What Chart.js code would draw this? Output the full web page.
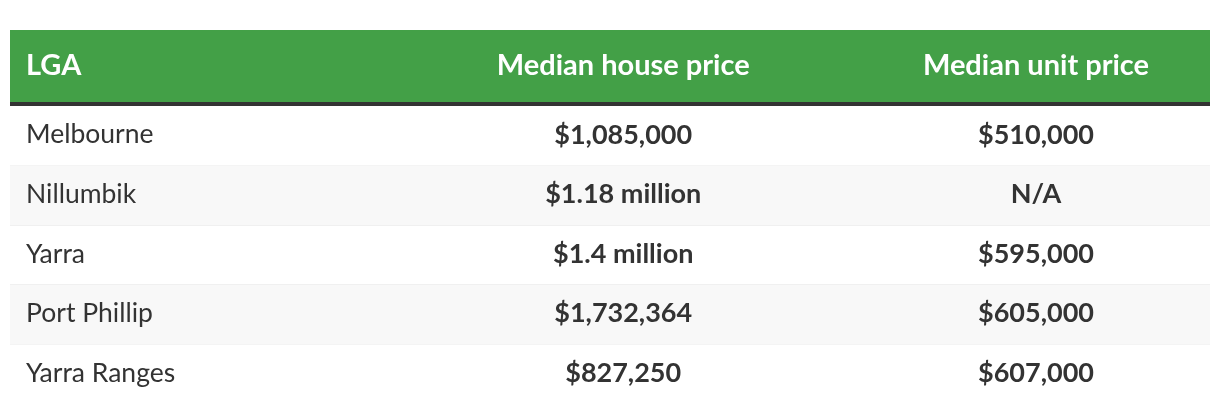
<!DOCTYPE html>
<html>
<head>
<meta charset="utf-8">
<script src="https://cdn.jsdelivr.net/npm/chart.js@4.4.1/dist/chart.umd.min.js"></script>
<style>
  html, body { margin: 0; padding: 0; background: #fff; }
  #wrap { width: 1220px; height: 414px; position: relative; }
</style>
</head>
<body>
<div id="wrap"><canvas id="table"></canvas></div>
<script>
const columns = ['LGA', 'Median house price', 'Median unit price'];
const lgas = ['Melbourne', 'Nillumbik', 'Yarra', 'Port Phillip', 'Yarra Ranges'];
const housePrices = ['$1,085,000', '$1.18 million', '$1.4 million', '$1,732,364', '$827,250'];
const unitPrices = ['$510,000', 'N/A', '$595,000', '$605,000', '$607,000'];

// layout: column edges as a fraction of the table width
const colEdges = [0, 0.312, 0.71, 1];
const FONT = 'Lato, "Noto Sans", sans-serif';
const GREEN = '#43a047';
const TEXT = '#333333';

const headerPlugin = {
  id: 'header',
  beforeDraw(chart) {
    const { ctx, chartArea: a } = chart;
    ctx.save();
    ctx.fillStyle = GREEN;
    ctx.fillRect(a.left, 30, a.right - a.left, a.top - 34);
    ctx.fillStyle = '#333333';
    ctx.fillRect(a.left, a.top - 4, a.right - a.left, 4);
    ctx.restore();
  },
  afterDatasetsDraw(chart) {
    const { ctx, chartArea: a, scales } = chart;
    const x = scales.x, y = scales.y;
    const headY = (30 + a.top - 4) / 2;
    const center = (c) => x.getPixelForValue((colEdges[c] + colEdges[c + 1]) / 2);
    ctx.save();
    ctx.textBaseline = 'middle';

    ctx.fillStyle = '#ffffff';
    ctx.font = 'bold 29px ' + FONT;
    ctx.textAlign = 'left';
    ctx.fillText(columns[0], x.getPixelForValue(colEdges[0]) + 16, headY);
    ctx.textAlign = 'center';
    ctx.fillText(columns[1], center(1), headY);
    ctx.fillText(columns[2], center(2), headY);

    ctx.fillStyle = TEXT;
    lgas.forEach((name, i) => {
      const py = y.getPixelForValue(i) - 1;
      ctx.font = '26.5px ' + FONT;
      ctx.textAlign = 'left';
      ctx.fillText(name, x.getPixelForValue(colEdges[0]) + 16, py);
      ctx.font = 'bold 27px ' + FONT;
      ctx.textAlign = 'center';
      ctx.fillText(housePrices[i], center(1), py);
      ctx.fillText(unitPrices[i], center(2), py);
    });
    ctx.restore();
  }
};

new Chart(document.getElementById('table'), {
  type: 'bar',
  data: {
    labels: lgas,
    datasets: [{
      label: 'stripe',
      data: lgas.map((_, i) => (i % 2 ? [0, 1] : null)),
      backgroundColor: '#f8f8f8',
      barPercentage: 1,
      categoryPercentage: 1,
    }],
  },
  options: {
    indexAxis: 'y',
    responsive: true,
    maintainAspectRatio: false,
    animation: false,
    layout: { padding: { top: 106, left: 10, right: 10, bottom: 10 } },
    plugins: {
      legend: { display: false },
      tooltip: { enabled: false },
    },
    scales: {
      x: { display: false, min: 0, max: 1 },
      y: {
        z: 1,
        ticks: { display: false, padding: 0 },
        border: { display: false },
        grid: {
          offset: true,
          drawTicks: false,
          tickLength: 0,
          lineWidth: 2,
          color: (ctx) => (ctx.type !== 'tick' || ctx.index === 0 ? 'rgba(0,0,0,0)' : '#e8e8e8'),
        },
      },
    },
  },
  plugins: [headerPlugin],
});
</script>
</body>
</html>
